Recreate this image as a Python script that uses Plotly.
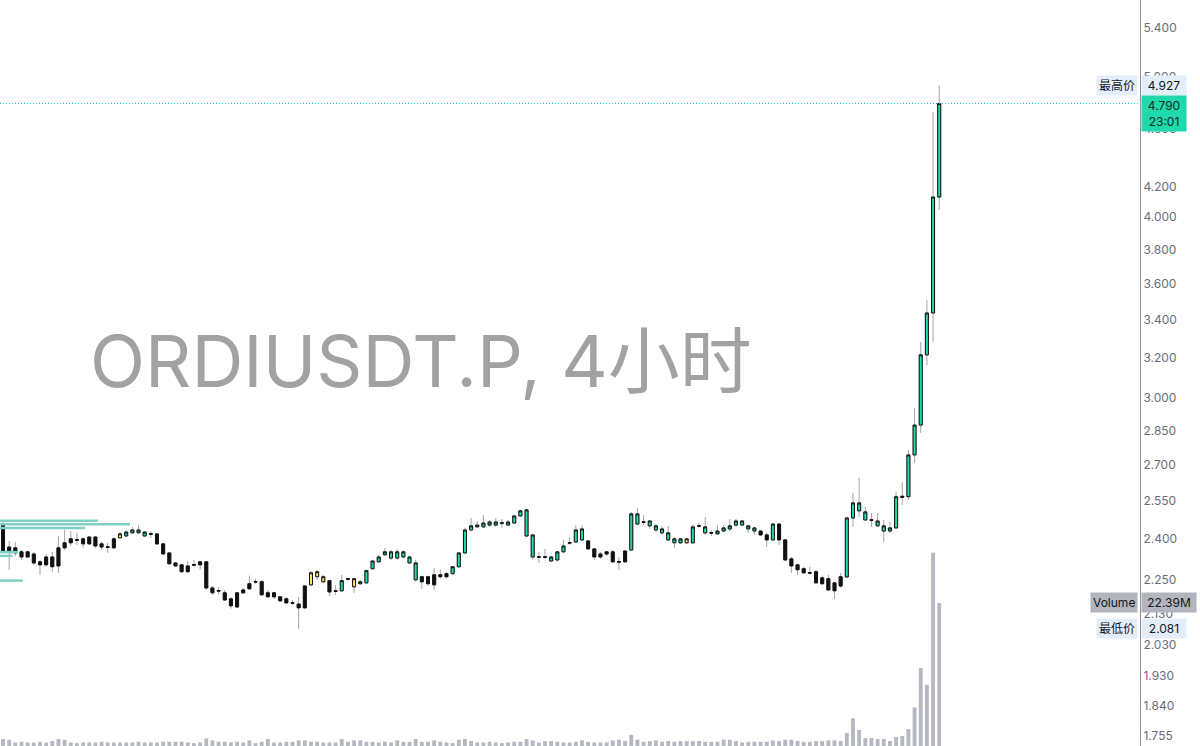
import math
import plotly.graph_objects as go

# 4小时 K线 (ORDIUSDT.P)，数值读自截图
open_ = [
    2.457, 2.369, 2.366, 2.351, 2.351, 2.343, 2.314, 2.332, 2.332, 2.366,
    2.385, 2.400, 2.397, 2.400, 2.407, 2.407, 2.381, 2.370, 2.400, 2.404,
    2.411, 2.423, 2.423, 2.411, 2.420, 2.419, 2.381, 2.347, 2.310, 2.303,
    2.299, 2.304, 2.314, 2.314, 2.220, 2.211, 2.203, 2.182, 2.203, 2.213,
    2.235, 2.243, 2.242, 2.203, 2.203, 2.189, 2.182, 2.169, 2.164, 2.227,
    2.231, 2.260, 2.242, 2.246, 2.210, 2.210, 2.253, 2.224, 2.235, 2.238,
    2.289, 2.314, 2.340, 2.328, 2.328, 2.332, 2.310, 2.249, 2.260, 2.260,
    2.267, 2.267, 2.271, 2.271, 2.296, 2.347, 2.434, 2.446, 2.446, 2.453,
    2.453, 2.462, 2.453, 2.461, 2.489, 2.411, 2.332, 2.333, 2.333, 2.317,
    2.321, 2.351, 2.386, 2.388, 2.396, 2.392, 2.362, 2.343, 2.351, 2.351,
    2.315, 2.354, 2.358, 2.457, 2.466, 2.450, 2.434, 2.423, 2.396, 2.385,
    2.385, 2.385, 2.385, 2.451, 2.423, 2.424, 2.419, 2.430, 2.438, 2.453,
    2.453, 2.438, 2.430, 2.430, 2.415, 2.396, 2.457, 2.396, 2.325, 2.303,
    2.289, 2.275, 2.278, 2.256, 2.253, 2.238, 2.260, 2.259, 2.481, 2.509,
    2.473, 2.474, 2.450, 2.430, 2.430, 2.442, 2.568, 2.566, 2.742, 2.875,
    3.214, 3.435, 4.129,
]
high = [
    2.473, 2.392, 2.388, 2.358, 2.354, 2.351, 2.321, 2.343, 2.351, 2.411,
    2.434, 2.430, 2.423, 2.407, 2.411, 2.411, 2.388, 2.385, 2.407, 2.426,
    2.434, 2.446, 2.453, 2.430, 2.430, 2.423, 2.385, 2.351, 2.314, 2.307,
    2.317, 2.321, 2.317, 2.317, 2.227, 2.224, 2.213, 2.189, 2.206, 2.220,
    2.264, 2.253, 2.249, 2.213, 2.206, 2.192, 2.189, 2.178, 2.189, 2.231,
    2.282, 2.285, 2.267, 2.249, 2.231, 2.267, 2.256, 2.256, 2.249, 2.285,
    2.321, 2.340, 2.366, 2.358, 2.362, 2.358, 2.336, 2.321, 2.264, 2.264,
    2.292, 2.285, 2.278, 2.299, 2.351, 2.442, 2.481, 2.469, 2.493, 2.473,
    2.481, 2.477, 2.473, 2.493, 2.513, 2.517, 2.419, 2.351, 2.362, 2.336,
    2.354, 2.396, 2.407, 2.453, 2.453, 2.396, 2.366, 2.351, 2.354, 2.358,
    2.332, 2.358, 2.505, 2.521, 2.493, 2.473, 2.457, 2.450, 2.450, 2.407,
    2.404, 2.404, 2.457, 2.461, 2.485, 2.434, 2.453, 2.453, 2.477, 2.477,
    2.473, 2.453, 2.446, 2.434, 2.423, 2.461, 2.461, 2.400, 2.332, 2.307,
    2.296, 2.296, 2.285, 2.264, 2.267, 2.242, 2.274, 2.485, 2.582, 2.644,
    2.524, 2.500, 2.500, 2.473, 2.465, 2.586, 2.626, 2.764, 2.954, 3.281,
    3.507, 4.727, 4.927,
]
low = [
    2.347, 2.285, 2.336, 2.321, 2.328, 2.303, 2.267, 2.296, 2.278, 2.274,
    2.358, 2.373, 2.377, 2.366, 2.377, 2.366, 2.358, 2.347, 2.362, 2.400,
    2.407, 2.419, 2.419, 2.407, 2.404, 2.377, 2.340, 2.303, 2.296, 2.274,
    2.274, 2.296, 2.285, 2.213, 2.196, 2.196, 2.175, 2.148, 2.151, 2.199,
    2.213, 2.235, 2.192, 2.185, 2.182, 2.171, 2.165, 2.161, 2.081, 2.148,
    2.227, 2.249, 2.238, 2.192, 2.196, 2.206, 2.246, 2.203, 2.231, 2.235,
    2.285, 2.310, 2.336, 2.321, 2.321, 2.328, 2.307, 2.242, 2.217, 2.227,
    2.213, 2.253, 2.253, 2.267, 2.292, 2.343, 2.430, 2.442, 2.442, 2.446,
    2.446, 2.442, 2.450, 2.457, 2.485, 2.407, 2.321, 2.310, 2.325, 2.314,
    2.314, 2.347, 2.377, 2.385, 2.392, 2.358, 2.321, 2.325, 2.336, 2.310,
    2.285, 2.310, 2.354, 2.453, 2.453, 2.438, 2.426, 2.415, 2.392, 2.366,
    2.381, 2.381, 2.381, 2.442, 2.415, 2.411, 2.415, 2.426, 2.430, 2.446,
    2.450, 2.423, 2.415, 2.411, 2.369, 2.392, 2.377, 2.317, 2.274, 2.267,
    2.271, 2.267, 2.235, 2.231, 2.210, 2.182, 2.220, 2.256, 2.446, 2.485,
    2.469, 2.446, 2.446, 2.389, 2.423, 2.440, 2.533, 2.553, 2.707, 2.839,
    3.163, 3.281, 4.045,
]
close = [
    2.354, 2.354, 2.347, 2.332, 2.332, 2.310, 2.303, 2.303, 2.296, 2.299,
    2.366, 2.385, 2.395, 2.381, 2.381, 2.373, 2.369, 2.368, 2.366, 2.419,
    2.426, 2.434, 2.434, 2.426, 2.418, 2.381, 2.343, 2.307, 2.299, 2.278,
    2.278, 2.302, 2.303, 2.220, 2.203, 2.209, 2.178, 2.158, 2.154, 2.203,
    2.217, 2.241, 2.196, 2.189, 2.189, 2.175, 2.168, 2.167, 2.151, 2.151,
    2.274, 2.278, 2.260, 2.206, 2.208, 2.246, 2.251, 2.253, 2.242, 2.282,
    2.317, 2.332, 2.351, 2.351, 2.351, 2.351, 2.332, 2.310, 2.242, 2.235,
    2.231, 2.260, 2.260, 2.296, 2.347, 2.434, 2.450, 2.453, 2.461, 2.465,
    2.465, 2.460, 2.465, 2.489, 2.509, 2.513, 2.415, 2.331, 2.331, 2.332,
    2.351, 2.373, 2.384, 2.434, 2.438, 2.362, 2.332, 2.332, 2.343, 2.314,
    2.313, 2.314, 2.497, 2.497, 2.464, 2.469, 2.450, 2.438, 2.423, 2.400,
    2.400, 2.400, 2.446, 2.449, 2.446, 2.422, 2.430, 2.442, 2.450, 2.469,
    2.469, 2.450, 2.442, 2.415, 2.396, 2.457, 2.396, 2.321, 2.299, 2.285,
    2.274, 2.273, 2.238, 2.235, 2.213, 2.210, 2.227, 2.481, 2.541, 2.541,
    2.505, 2.472, 2.469, 2.450, 2.442, 2.566, 2.564, 2.742, 2.875, 3.214,
    3.435, 4.129, 4.790,
]
# 成交量 (百万)
volume = [
    2.7, 2.6, 2.2, 2.3, 2.2, 2.2, 2.3, 2.2, 2.4, 2.7,
    2.6, 2.2, 2.1, 2.2, 2.2, 2.2, 2.3, 2.2, 2.2, 2.2,
    2.2, 2.2, 2.3, 2.2, 2.2, 2.2, 2.3, 2.3, 2.3, 2.3,
    2.2, 2.1, 2.2, 2.8, 2.5, 2.3, 2.3, 2.2, 2.3, 2.2,
    2.5, 2.1, 2.3, 2.7, 2.2, 2.2, 2.3, 2.3, 2.5, 2.5,
    2.3, 2.3, 2.2, 2.2, 2.2, 2.7, 2.3, 2.5, 2.5, 2.3,
    2.3, 2.2, 2.3, 2.2, 2.5, 2.3, 2.3, 2.7, 2.3, 2.3,
    2.5, 2.3, 2.2, 2.1, 2.6, 2.7, 2.4, 2.2, 2.2, 2.3,
    2.2, 2.1, 2.2, 2.3, 2.3, 2.7, 2.5, 2.2, 2.4, 2.4,
    2.3, 2.2, 2.2, 2.3, 2.5, 2.3, 2.2, 2.2, 2.2, 2.5,
    2.6, 2.4, 3.3, 2.6, 2.3, 2.4, 2.5, 2.3, 2.4, 2.3,
    2.4, 2.4, 2.4, 2.4, 2.3, 2.3, 2.3, 2.6, 2.6, 2.4,
    2.2, 2.3, 2.3, 2.3, 2.3, 2.5, 2.4, 2.6, 2.6, 2.4,
    2.3, 2.3, 2.4, 2.4, 2.5, 2.5, 2.4, 3.57, 5.7, 4.0,
    2.85, 2.85, 2.7, 2.7, 2.42, 3.0, 3.14, 4.14, 7.27, 12.98,
    10.55, 29.66, 22.39,
]
yellow_idx = [19, 50, 51, 52, 57, 111]

# 左侧成交量分布 (价位, 长度按K线根数)
profile_price = [2.470, 2.456, 2.442, 2.350, 2.336, 2.246]
profile_len = [15.9, 21.1, 13.8, 2.9, 2.0, 3.7]

tick_vals = [5.4, 5.0, 4.6, 4.2, 4.0, 3.8, 3.6, 3.4, 3.2, 3.0, 2.85, 2.7,
             2.55, 2.4, 2.25, 2.13, 2.03, 1.93, 1.84, 1.755]
tick_text = [f"{v:.3f}" for v in tick_vals]

countdown = "23:01"
title_text = "ORDIUSDT.P, 4小时"

# ---------------------------------------------------------------
n = len(close)
x = list(range(n))
x_range = [-0.49, 184.6]
body_top = [max(o, c) for o, c in zip(open_, close)]
body_bot = [min(o, c) for o, c in zip(open_, close)]
normal = [i for i in x if i not in yellow_idx]

TEAL = "#24d9a8"
YELLOW = "#ffe45c"
WICK = "#a3a3a3"
LABEL_BG = "#e4eefa"
VOL_BG = "#b2b5be"
FONT = "Inter, Noto Sans CJK SC, sans-serif"


def pick(seq, idx):
    return [seq[i] for i in idx]


fig = go.Figure()

fig.add_trace(go.Bar(
    x=x, y=volume, yaxis="y2", width=0.62,
    marker=dict(color=VOL_BG, line_width=0), opacity=0.95,
    hoverinfo="skip", showlegend=False,
))

# 成交量分布横条
px_, py_ = [], []
for p, ln in zip(profile_price, profile_len):
    px_ += [x_range[0], x_range[0] + ln, None]
    py_ += [p, p, None]
fig.add_trace(go.Scatter(
    x=px_, y=py_, mode="lines", line=dict(color="#7fd0c4", width=2.5),
    hoverinfo="skip", showlegend=False,
))

# 影线
fig.add_trace(go.Candlestick(
    x=x, open=open_, high=high, low=low, close=close,
    increasing=dict(line=dict(color=WICK, width=1), fillcolor="white"),
    decreasing=dict(line=dict(color=WICK, width=1), fillcolor="white"),
    whiskerwidth=0, hoverinfo="skip", showlegend=False,
))

# 实体
fig.add_trace(go.Candlestick(
    x=pick(x, normal), open=pick(open_, normal), close=pick(close, normal),
    high=pick(body_top, normal), low=pick(body_bot, normal),
    increasing=dict(line=dict(color="#111111", width=1), fillcolor=TEAL),
    decreasing=dict(line=dict(color="#111111", width=1), fillcolor="#111111"),
    whiskerwidth=0, showlegend=False,
))
fig.add_trace(go.Candlestick(
    x=yellow_idx, open=pick(open_, yellow_idx), close=pick(close, yellow_idx),
    high=pick(body_top, yellow_idx), low=pick(body_bot, yellow_idx),
    increasing=dict(line=dict(color="#111111", width=1), fillcolor=YELLOW),
    decreasing=dict(line=dict(color="#111111", width=1), fillcolor=YELLOW),
    whiskerwidth=0, showlegend=False,
))

# 当前价虚线
fig.add_trace(go.Scatter(
    x=x_range, y=[close[-1], close[-1]], mode="lines",
    line=dict(color="#18c4dc", width=1, dash="1px,2px"),
    hoverinfo="skip", showlegend=False,
))

hi = max(high)
lo = min(low)


def axis_label(text, yval, yref="y", bg=LABEL_BG, side="left", width=None, yanchor="middle", yshift=0,
               color="#131722"):
    return dict(
        text=text, xref="paper", x=1.0, yref=yref, y=yval,
        xanchor=side, yanchor=yanchor, xshift=1 if side == "left" else -2, yshift=yshift,
        showarrow=False, bgcolor=bg, borderpad=2, width=width, align="center",
        font=dict(size=12, color=color, family=FONT),
    )


annotations = [
    dict(text=title_text, xref="paper", yref="paper", x=88 / 1140, y=1 - 360 / 746,
         xanchor="left", yanchor="middle", showarrow=False,
         font=dict(size=72, color="#a2a2a2", family=FONT)),
    axis_label("最高价", math.log10(hi), side="right"),
    axis_label(f"{hi:.3f}", math.log10(hi), width=40),
    axis_label(f"{close[-1]:.3f}<br>{countdown}", math.log10(close[-1]), bg="#1fd9ab",
               width=40, yanchor="top", yshift=9, color="#0f2f27"),
    axis_label("Volume", volume[-1], yref="y2", bg=VOL_BG, side="right"),
    axis_label(f"{volume[-1]:.2f}M", volume[-1], yref="y2", bg=VOL_BG, width=50),
    axis_label("最低价", math.log10(lo), side="right"),
    axis_label(f"{lo:.3f}", math.log10(lo), width=40),
]

fig.update_layout(
    width=1200, height=746,
    margin=dict(l=0, r=60, t=0, b=0),
    plot_bgcolor="white", paper_bgcolor="white",
    font=dict(family=FONT, size=12, color="#6a6d78"),
    showlegend=False,
    xaxis=dict(range=x_range, visible=False, rangeslider=dict(visible=False), fixedrange=True),
    yaxis=dict(
        type="log", range=[0.2374, 0.7517], side="right",
        tickvals=tick_vals, ticktext=tick_text, ticks="", showgrid=False, zeroline=False,
        showline=True, linecolor="#8c8f99", linewidth=1,
        tickfont=dict(size=12, color="#6a6d78"), fixedrange=True,
    ),
    yaxis2=dict(overlaying="y", range=[1.69, 109.6], visible=False, fixedrange=True),
    annotations=annotations,
)

fig.write_html("out.html", config={"displayModeBar": False},
               post_script="document.body.style.margin='0';")
